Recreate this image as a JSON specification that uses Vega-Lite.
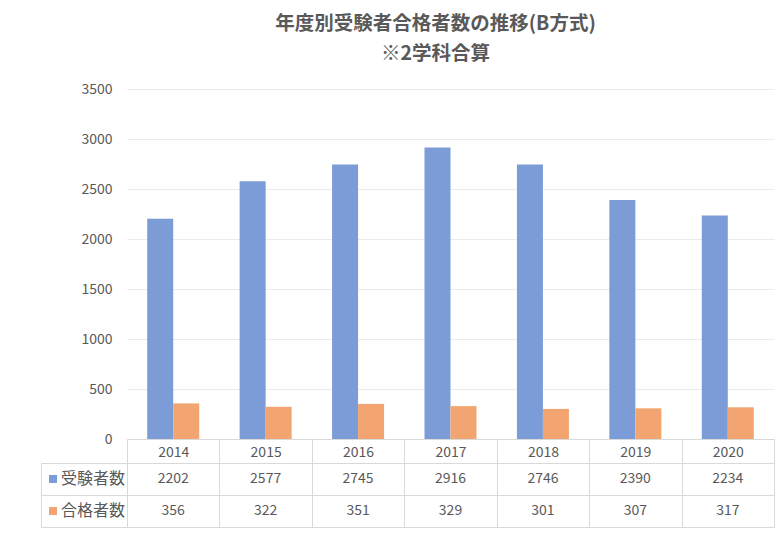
{
  "$schema": "https://vega.github.io/schema/vega-lite/v6.json",
  "background": "white",
  "padding": {"left": 40, "top": 13, "right": 10, "bottom": 10},
  "bounds": "flush",
  "spacing": 24,
  "title": {
    "text": ["年度別受験者合格者数の推移(B方式)", "※2学科合算"],
    "font": "Noto Sans CJK JP",
    "fontSize": 19.5,
    "fontWeight": "bold",
    "color": "#595959",
    "lineHeight": 30,
    "anchor": "middle",
    "dx": 28,
    "offset": 18
  },
  "config": {
    "view": {"stroke": null},
    "font": "Noto Sans CJK JP",
    "axis": {"labelFont": "Noto Sans CJK JP", "labelColor": "#595959", "labelFontSize": 14}
  },
  "data": {
    "values": [
      {"year": "2014", "series": "受験者数", "value": 2202},
      {"year": "2015", "series": "受験者数", "value": 2577},
      {"year": "2016", "series": "受験者数", "value": 2745},
      {"year": "2017", "series": "受験者数", "value": 2916},
      {"year": "2018", "series": "受験者数", "value": 2746},
      {"year": "2019", "series": "受験者数", "value": 2390},
      {"year": "2020", "series": "受験者数", "value": 2234},
      {"year": "2014", "series": "合格者数", "value": 356},
      {"year": "2015", "series": "合格者数", "value": 322},
      {"year": "2016", "series": "合格者数", "value": 351},
      {"year": "2017", "series": "合格者数", "value": 329},
      {"year": "2018", "series": "合格者数", "value": 301},
      {"year": "2019", "series": "合格者数", "value": 307},
      {"year": "2020", "series": "合格者数", "value": 317}
    ]
  },
  "vconcat": [
    {
      "width": 647,
      "height": 350,
      "mark": {"type": "bar"},
      "encoding": {
        "x": {
          "field": "year", "type": "nominal",
          "scale": {"paddingInner": 0, "paddingOuter": 0},
          "axis": {
            "title": null, "labelAngle": 0,
            "tickBand": "extent", "tickSize": 24, "tickColor": "#d9d9d9",
            "domainColor": "#d9d9d9", "labelPadding": -18, "labelBaseline": "top"
          }
        },
        "xOffset": {
          "field": "series", "type": "nominal",
          "sort": ["受験者数", "合格者数"],
          "scale": {"paddingInner": 0, "paddingOuter": 0.777}
        },
        "y": {
          "field": "value", "type": "quantitative",
          "scale": {"domain": [0, 3500], "nice": false},
          "axis": {
            "title": null, "values": [0, 500, 1000, 1500, 2000, 2500, 3000, 3500],
            "format": "d", "labelOverlap": false,
            "domain": false, "ticks": false, "labelPadding": 15,
            "gridColor": "#ebebeb", "minExtent": 0
          }
        },
        "color": {
          "field": "series", "type": "nominal",
          "sort": ["受験者数", "合格者数"],
          "scale": {"range": ["#7b9cd6", "#f2a570"]},
          "legend": {
            "title": null, "orient": "none", "legendX": -82, "legendY": 382,
            "symbolType": "square", "symbolSize": 64, "symbolStrokeWidth": 0,
            "labelFont": "Noto Sans CJK JP", "labelFontSize": 16, "labelColor": "#595959",
            "labelOffset": 0, "rowPadding": 16, "padding": 0
          }
        }
      }
    },
    {
      "width": 647,
      "height": 64,
      "mark": {"type": "text", "font": "Noto Sans CJK JP", "fontSize": 14, "color": "#595959"},
      "encoding": {
        "x": {
          "field": "year", "type": "nominal",
          "scale": {"paddingInner": 0, "paddingOuter": 0},
          "axis": {
            "title": null, "labels": false, "ticks": false, "domain": false,
            "grid": true, "tickBand": "extent", "gridColor": "#d9d9d9"
          }
        },
        "y": {
          "field": "series", "type": "nominal",
          "sort": ["受験者数", "合格者数"],
          "scale": {"paddingInner": 0, "paddingOuter": 0},
          "axis": {
            "title": null, "labels": false, "offset": 86, "tickSize": -86,
            "tickBand": "extent", "tickColor": "#d9d9d9", "domainColor": "#d9d9d9",
            "grid": true, "gridColor": "#d9d9d9", "minExtent": 0, "maxExtent": 0
          }
        },
        "text": {"field": "value", "type": "quantitative"}
      }
    }
  ]
}
